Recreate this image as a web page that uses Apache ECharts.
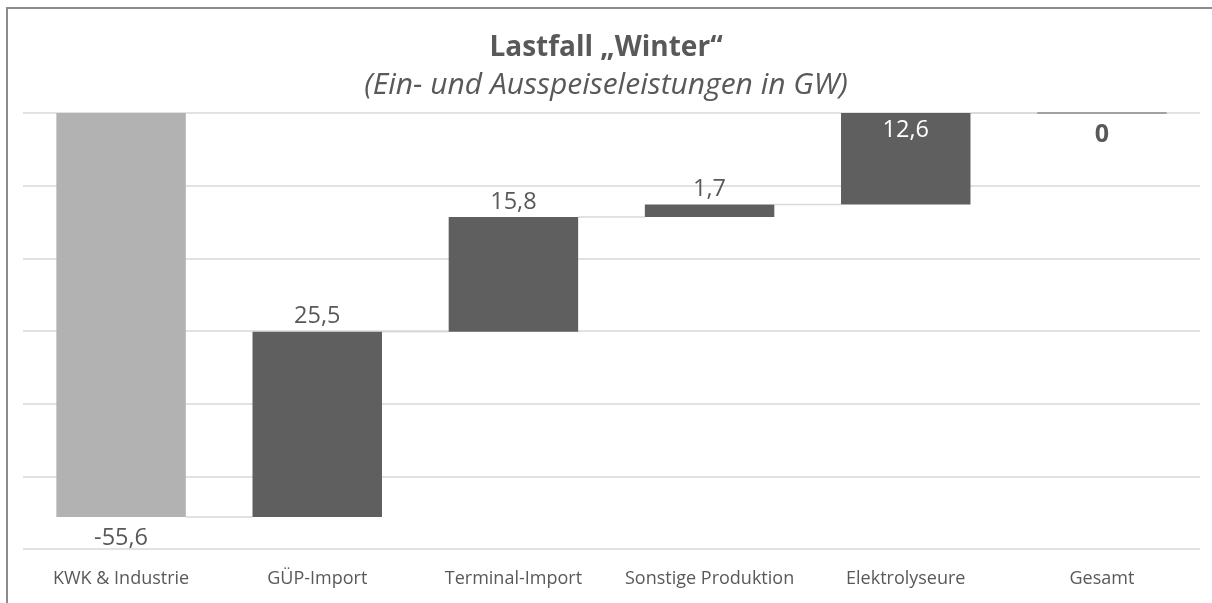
<!DOCTYPE html>
<html>
<head>
<meta charset="utf-8">
<script src="https://cdn.jsdelivr.net/npm/echarts@6/dist/echarts.min.js"></script>
<style>
  html, body { margin: 0; padding: 0; background: #fff; }
  #chart { position: absolute; left: 0; top: 0; width: 1212px; height: 603px; }
  #frame { position: absolute; left: 6px; top: 7px; right: 0; bottom: 0;
           border-left: 2px solid #8c8c8c; border-top: 2px solid #8c8c8c; pointer-events: none; }
</style>
</head>
<body>
<div id="chart"></div>
<div id="frame"></div>
<script>
const categories = ['KWK & Industrie', 'GÜP-Import', 'Terminal-Import', 'Sonstige Produktion', 'Elektrolyseure', 'Gesamt'];
// Ein-/Ausspeisung je Kategorie in GW, letzte Spalte ist die Summe
const changes = [-55.6, 25.5, 15.8, 1.7, 12.6];
const yTicks = { min: -60, max: 0, interval: 10 };

// laufende Summe fuer den Wasserfall
const starts = [];
const ends = [];
let run = 0;
changes.forEach(v => { starts.push(run); run = +(run + v).toFixed(1); ends.push(run); });
const total = run;
starts.push(0);
ends.push(total);

const helper = starts.map((s, i) => Math.max(s, ends[i]));
const visible = starts.map((s, i) => Math.min(s, ends[i]) - Math.max(s, ends[i]));
const labelText = changes.concat([total]).map(v => String(v).replace('.', ','));

const font = '"Open Sans", "Noto Sans", sans-serif';
const textColor = '#595959';

const chart = echarts.init(document.getElementById('chart'));

const barData = visible.map((v, i) => {
  const item = { value: v, itemStyle: { color: i === 0 ? '#b2b2b2' : '#5f5f5f' } };
  if (i === 0) item.label = { position: 'bottom', distance: 9 };
  else if (i === 4) item.label = { position: 'insideTop', distance: 5, color: '#ffffff' };
  else if (i === 5) item.label = { position: 'bottom', distance: 9, fontWeight: 'bold', fontSize: 25 };
  return item;
});

chart.setOption({
  animation: false,
  title: [
    { text: 'Lastfall „Winter“', left: 'center', top: 29,
      textStyle: { fontFamily: font, fontSize: 28, fontWeight: 'bold', color: textColor } },
    { text: '(Ein- und Ausspeiseleistungen in GW)', left: 'center', top: 65,
      textStyle: { fontFamily: font, fontSize: 30, fontStyle: 'italic', fontWeight: 'normal', color: textColor } }
  ],
  grid: { left: 23, right: 12, top: 113, bottom: 54 },
  xAxis: {
    type: 'category',
    data: categories,
    axisLine: { show: false },
    axisTick: { show: false },
    axisLabel: { fontFamily: font, fontSize: 18, color: textColor, margin: 21, interval: 0 }
  },
  yAxis: {
    type: 'value',
    min: yTicks.min, max: yTicks.max, interval: yTicks.interval,
    axisLabel: { show: false },
    axisLine: { show: false },
    axisTick: { show: false },
    splitLine: { lineStyle: { color: '#d9d9d9', width: 1.5 } }
  },
  series: [
    {
      type: 'bar', stack: 'w', data: helper, barCategoryGap: '34%',
      itemStyle: { color: 'transparent' }, silent: true
    },
    {
      type: 'bar', stack: 'w', data: barData,
      label: {
        show: true, position: 'top', distance: 3,
        fontFamily: font, fontSize: 23.5, color: textColor,
        formatter: p => labelText[p.dataIndex]
      }
    },
    {
      // Verbindungslinien zwischen den Saeulen und Summenstrich
      type: 'custom',
      data: ends.map((e, i) => [i, e]),
      z: 1,
      renderItem: (params, api) => {
        const i = api.value(0);
        const p = api.coord([i, api.value(1)]);
        const step = api.size([1, 0])[0];
        const half = step * 0.33;
        if (i === categories.length - 1) {
          return { type: 'line', shape: { x1: p[0] - half, y1: p[1], x2: p[0] + half, y2: p[1] },
                   style: { stroke: '#8c8c8c', lineWidth: 1.5 }, z2: 10 };
        }
        return { type: 'line', shape: { x1: p[0] + half, y1: p[1], x2: p[0] + step - half, y2: p[1] },
                 style: { stroke: '#d9d9d9', lineWidth: 1.5 } };
      }
    }
  ]
});
</script>
</body>
</html>
